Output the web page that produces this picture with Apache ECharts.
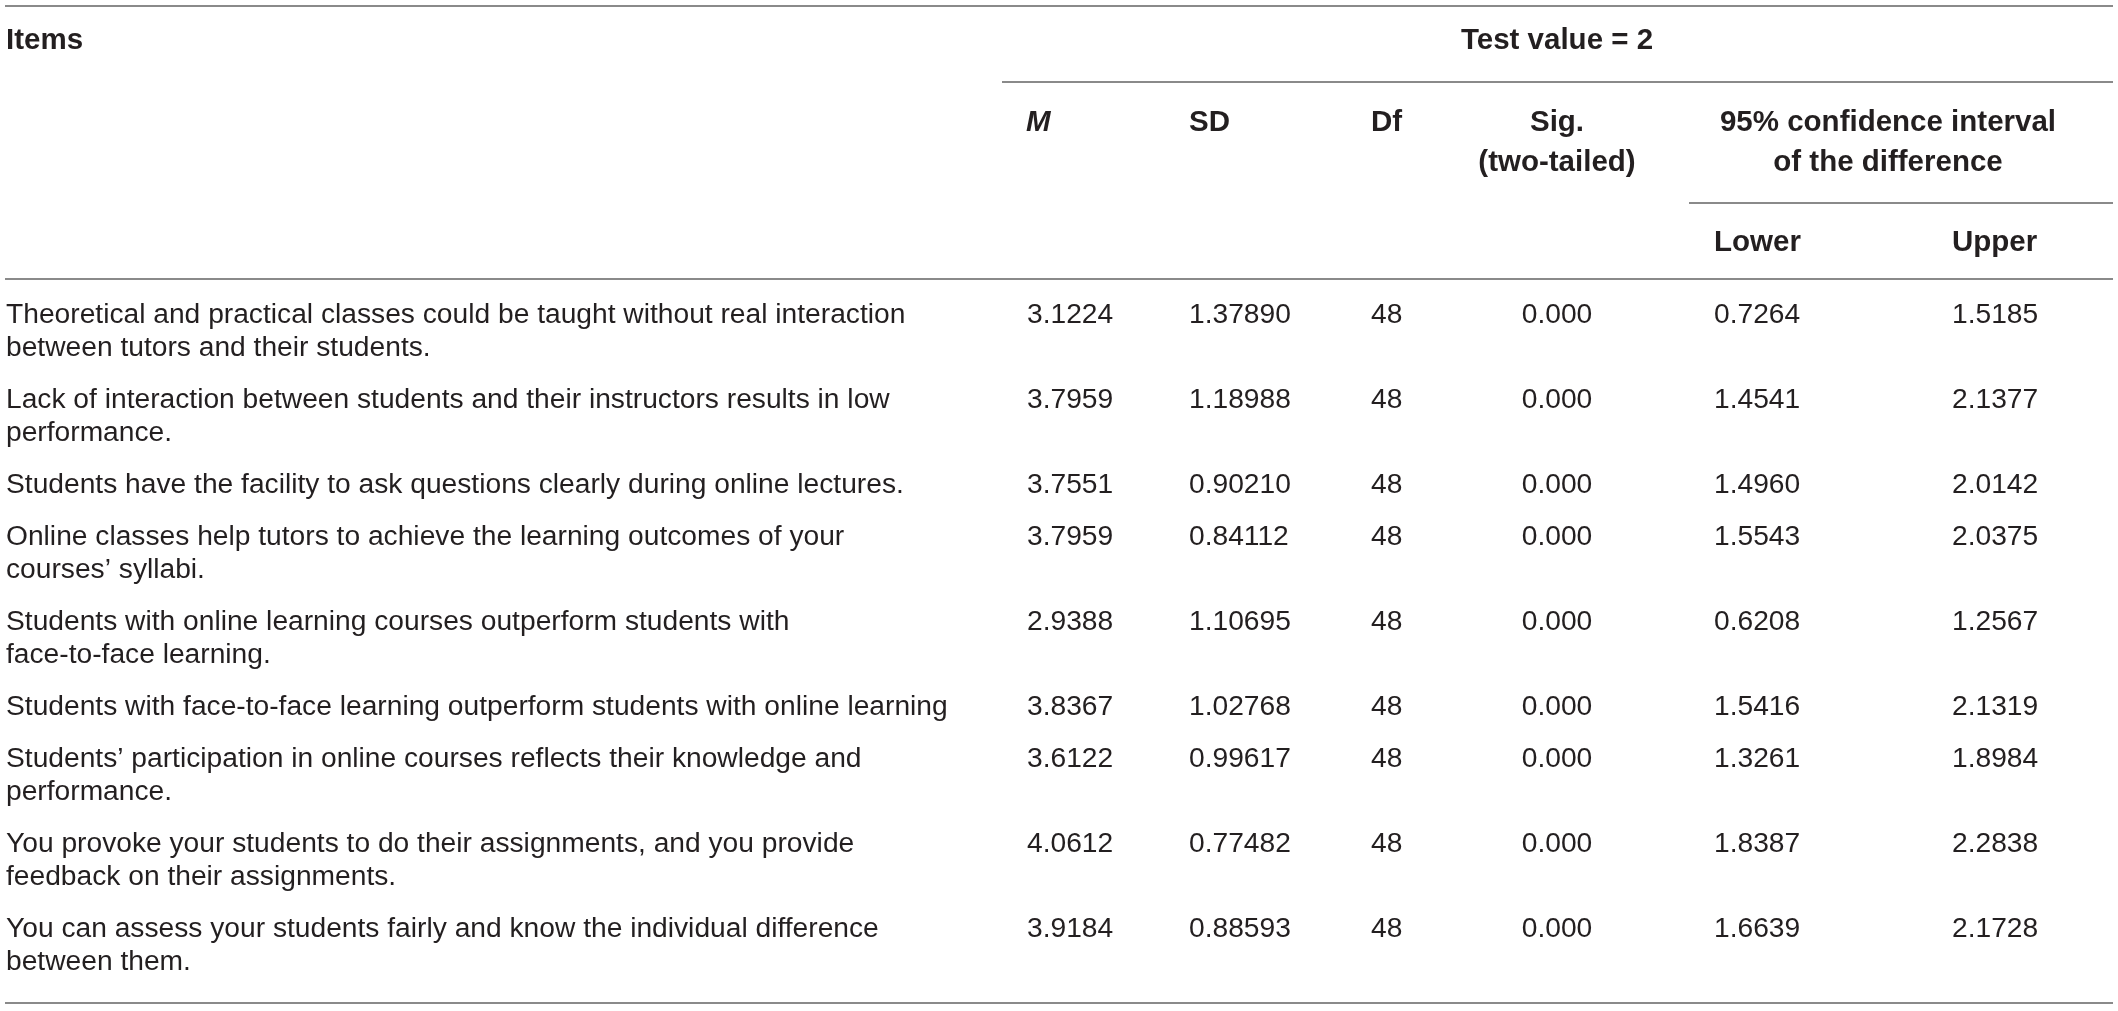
<!DOCTYPE html>
<html>
<head>
<meta charset="utf-8">
<script src="https://cdn.jsdelivr.net/npm/echarts@6/dist/echarts.min.js"></script>
<style>
html,body{margin:0;padding:0;background:#fff;}
#chart{width:2118px;height:1011px;}
</style>
</head>
<body>
<div id="chart"></div>
<script>
// ---- Data ----
var items = [
  "Theoretical and practical classes could be taught without real interaction\nbetween tutors and their students.",
  "Lack of interaction between students and their instructors results in low\nperformance.",
  "Students have the facility to ask questions clearly during online lectures.",
  "Online classes help tutors to achieve the learning outcomes of your\ncourses\u2019 syllabi.",
  "Students with online learning courses outperform students with\nface-to-face learning.",
  "Students with face-to-face learning outperform students with online learning",
  "Students\u2019 participation in online courses reflects their knowledge and\nperformance.",
  "You provoke your students to do their assignments, and you provide\nfeedback on their assignments.",
  "You can assess your students fairly and know the individual difference\nbetween them."
];
var meanM = [3.1224, 3.7959, 3.7551, 3.7959, 2.9388, 3.8367, 3.6122, 4.0612, 3.9184];
var sdVals = [1.37890, 1.18988, 0.90210, 0.84112, 1.10695, 1.02768, 0.99617, 0.77482, 0.88593];
var dfVals = [48, 48, 48, 48, 48, 48, 48, 48, 48];
var sigVals = [0.000, 0.000, 0.000, 0.000, 0.000, 0.000, 0.000, 0.000, 0.000];
var lowerVals = [0.7264, 1.4541, 1.4960, 1.5543, 0.6208, 1.5416, 1.3261, 1.8387, 1.6639];
var upperVals = [1.5185, 2.1377, 2.0142, 2.0375, 1.2567, 2.1319, 1.8984, 2.2838, 2.1728];
var headerItems = "Items";
var headerTest = "Test value = 2";
var headerCols = ["M", "SD", "Df", "Sig.\n(two-tailed)", "95% confidence interval\nof the difference"];
var headerCI = ["Lower", "Upper"];

// ---- Layout / style ----
var FONT = '"Liberation Sans", Arial, Helvetica, sans-serif';
var TXT = '#231f20';
var RULE = '#8a8a8a';
var FS = 28.2;
var HFS = 29.5;
var LINE_H = 33;
var HEAD_LINE_H = 40;
var X0 = 5, X1 = 2113;
var colX = {item: 6, m: 1027, sd: 1189, df: 1371, sig: 1557, lower: 1714, upper: 1952, ci: 1888};
var ROW0_Y = 315;
var rowPitch = function (lines) { return lines * LINE_H + 19; };

var rowY = [];
(function () {
  var y = ROW0_Y;
  for (var i = 0; i < items.length; i++) {
    rowY.push(y);
    y += rowPitch(items[i].split('\n').length);
  }
})();

function txt(x, y, s, align, bold, italic, lh) {
  return {
    type: 'text', x: x, y: y,
    style: {
      text: s, x: 0, y: 0,
      fill: TXT,
      font: (italic ? 'italic ' : '') + (bold ? 'bold ' : '') + (bold ? HFS : FS) + 'px ' + FONT,
      align: align, verticalAlign: 'top',
      lineHeight: lh || LINE_H
    }
  };
}
function rule(x1, x2, y) {
  return {type: 'line', shape: {x1: x1, y1: y, x2: x2, y2: y}, style: {stroke: RULE, lineWidth: 2}, silent: true};
}
// text block positioned so first line's visual center is at cy
function cell(x, cy, s, align, bold, italic, lh) {
  var h = lh || LINE_H;
  return txt(x, cy - h / 2, s, align, bold, italic, h);
}

var rowData = items.map(function (_, i) { return [i]; });

var option = {
  backgroundColor: '#ffffff',
  animation: false,
  graphic: {
    elements: [
      rule(X0, X1, 6),
      rule(1002, X1, 82),
      rule(1689, X1, 203),
      rule(X0, X1, 279),
      rule(X0, X1, 1003),
      cell(colX.item, 41, headerItems, 'left', true, false, HEAD_LINE_H),
      cell(colX.sig, 41, headerTest, 'center', true, false, HEAD_LINE_H),
      cell(colX.m - 1, 123, headerCols[0], 'left', true, true, HEAD_LINE_H),
      cell(colX.sd, 123, headerCols[1], 'left', true, false, HEAD_LINE_H),
      cell(colX.df, 123, headerCols[2], 'left', true, false, HEAD_LINE_H),
      cell(colX.sig, 123, headerCols[3], 'center', true, false, HEAD_LINE_H),
      cell(colX.ci, 123, headerCols[4], 'center', true, false, HEAD_LINE_H),
      cell(colX.lower, 243, headerCI[0], 'left', true, false, HEAD_LINE_H),
      cell(colX.upper, 243, headerCI[1], 'left', true, false, HEAD_LINE_H)
    ]
  },
  series: [{
    type: 'custom',
    coordinateSystem: 'none',
    data: rowData,
    silent: true,
    renderItem: function (params, api) {
      var i = api.value(0);
      var cy = rowY[i];
      return {
        type: 'group',
        children: [
          cell(colX.item, cy, items[i], 'left'),
          cell(colX.m, cy, meanM[i].toFixed(4), 'left'),
          cell(colX.sd, cy, sdVals[i].toFixed(5), 'left'),
          cell(colX.df, cy, String(dfVals[i]), 'left'),
          cell(colX.sig, cy, sigVals[i].toFixed(3), 'center'),
          cell(colX.lower, cy, lowerVals[i].toFixed(4), 'left'),
          cell(colX.upper, cy, upperVals[i].toFixed(4), 'left')
        ]
      };
    }
  }]
};

var chart = echarts.init(document.getElementById('chart'), null, {renderer: 'canvas'});
chart.setOption(option);
</script>
</body>
</html>
